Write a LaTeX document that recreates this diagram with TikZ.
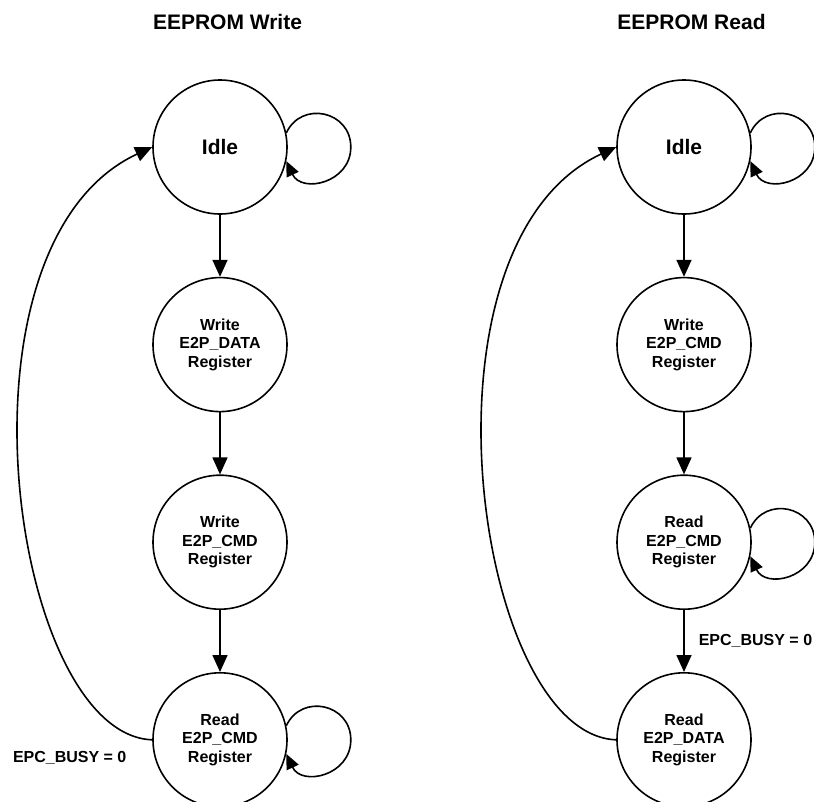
\documentclass[tikz,border=0pt]{standalone}
\usepackage{fontspec}
\setmainfont{Liberation Sans}
\usetikzlibrary{arrows.meta,automata,positioning}

\begin{document}
\begin{tikzpicture}[x=1pt,y=-1pt,->,>={Triangle[length=17pt,width=15pt]},
                    line width=1.6pt,node distance=62pt]
  \tikzstyle{every state}=[fill=none,draw=black,text=black,minimum size=134pt,
                           inner sep=0pt,align=center,line width=1.6pt,
                           font=\bfseries\fontsize{16}{18.5}\selectfont]
  \tikzstyle{heading}=[font=\bfseries\fontsize{21}{24}\selectfont]
  \tikzstyle{idle}=[font=\bfseries\fontsize{21}{24}\selectfont]
  \tikzstyle{cond}=[inner sep=0pt,font=\bfseries\fontsize{16}{18.5}\selectfont]
  \tikzstyle{selfloop}=[-{Triangle[length=15pt,width=13pt]},looseness=1.4]
  \tikzstyle{goback}=[out=178,in=205,out looseness=0.61,in looseness=1.0]

  \useasboundingbox (0,0) rectangle (814,801);

  % EEPROM Write
  \node[heading] (WT) at (227.5,22) {EEPROM Write};
  \node[state,idle] (W1) at (220,147) {Idle};
  \node[state] (W2) [below=of W1] {Write\\E2P\_DATA\\Register};
  \node[state] (W3) [below=of W2] {Write\\E2P\_CMD\\Register};
  \node[state] (W4) [below=of W3] {Read\\E2P\_CMD\\Register};
  \coordinate[right=63pt of W1.east] (W1o);
  \coordinate[right=63pt of W4.east] (W4o);

  \path (W1) edge (W2)
        (W2) edge (W3)
        (W3) edge (W4)
        (W4.west) edge [goback] node [cond,pos=0,anchor=north east,
                   xshift=-25pt,yshift=-11pt] {EPC\_BUSY = 0} (W1.west);
  \draw[selfloop] (W1.12) to[out=65,in=90] (W1o) to[out=-90,in=-65] (W1.-12);
  \draw[selfloop] (W4.12) to[out=65,in=90] (W4o) to[out=-90,in=-65] (W4.-12);

  % EEPROM Read
  \node[heading] (RT) at (691.5,22) {EEPROM Read};
  \node[state,idle] (R1) at (684,147) {Idle};
  \node[state] (R2) [below=of R1] {Write\\E2P\_CMD\\Register};
  \node[state] (R3) [below=of R2] {Read\\E2P\_CMD\\Register};
  \node[state] (R4) [below=of R3] {Read\\E2P\_DATA\\Register};
  \coordinate[right=63pt of R1.east] (R1o);
  \coordinate[right=63pt of R3.east] (R3o);

  \path (R1) edge (R2)
        (R2) edge (R3)
        (R3) edge node [cond,anchor=west,xshift=14pt] {EPC\_BUSY = 0} (R4)
        (R4.west) edge [goback] (R1.west);
  \draw[selfloop] (R1.12) to[out=65,in=90] (R1o) to[out=-90,in=-65] (R1.-12);
  \draw[selfloop] (R3.12) to[out=65,in=90] (R3o) to[out=-90,in=-65] (R3.-12);
\end{tikzpicture}
\end{document}
